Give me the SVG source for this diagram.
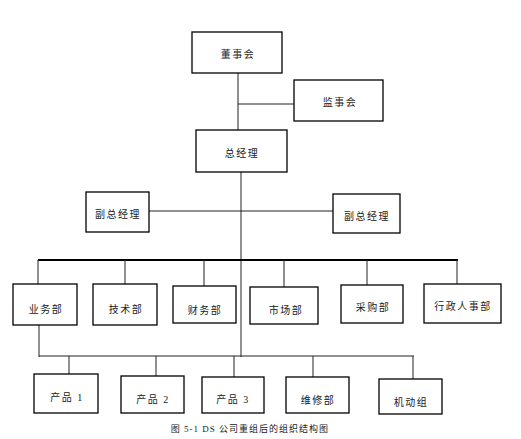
<svg xmlns="http://www.w3.org/2000/svg" width="521" height="439" viewBox="0 0 521 439">
<style>
.box{fill:#fff;stroke:#000;stroke-width:1.3}
.t{font-family:"Liberation Serif","Noto Sans CJK SC",serif;font-size:10px;letter-spacing:1.5px;fill:#222;text-anchor:middle;dominant-baseline:central}
.c{stroke:#222;stroke-width:1;fill:none}
.bus{stroke:#000;stroke-width:2;fill:none}
</style>
<rect width="521" height="439" fill="#fff"/>
<g id="connectors">
<line class="c" x1="238" y1="73" x2="238" y2="130"/>
<line class="c" x1="238" y1="104" x2="294" y2="104"/>
<line class="c" x1="241" y1="172" x2="241" y2="357"/>
<line class="c" x1="149" y1="211" x2="333" y2="211"/>
<line class="bus" x1="38" y1="260" x2="458" y2="260"/>
<line class="c" x1="38" y1="260" x2="38" y2="284"/>
<line class="c" x1="125" y1="260" x2="125" y2="284"/>
<line class="c" x1="204" y1="260" x2="204" y2="286"/>
<line class="c" x1="284" y1="260" x2="284" y2="287"/>
<line class="c" x1="367" y1="260" x2="367" y2="285"/>
<line class="c" x1="457" y1="260" x2="457" y2="284"/>
<line class="c" x1="39" y1="325" x2="39" y2="357"/>
<line class="c" x1="39" y1="356" x2="414" y2="356"/>
<line class="c" x1="69" y1="356" x2="69" y2="374"/>
<line class="c" x1="156" y1="356" x2="156" y2="376"/>
<line class="c" x1="234" y1="356" x2="234" y2="377"/>
<line class="c" x1="313" y1="356" x2="313" y2="377"/>
<line class="c" x1="413" y1="356" x2="413" y2="379"/>
</g>
<g id="n1"><rect class="box" x="192" y="32" width="90" height="41"/><text class="t" x="238" y="54">董事会</text></g>
<g id="n2"><rect class="box" x="294" y="80" width="89" height="41"/><text class="t" x="340" y="102">监事会</text></g>
<g id="n3"><rect class="box" x="196" y="130" width="91" height="42"/><text class="t" x="242" y="153">总经理</text></g>
<g id="n4"><rect class="box" x="86" y="192" width="63" height="40"/><text class="t" x="118" y="214">副总经理</text></g>
<g id="n5"><rect class="box" x="333" y="194" width="67" height="39"/><text class="t" x="367" y="216">副总经理</text></g>
<g id="n6"><rect class="box" x="13" y="284" width="64" height="41"/><text class="t" x="46" y="309">业务部</text></g>
<g id="n7"><rect class="box" x="93" y="284" width="64" height="41"/><text class="t" x="126" y="309">技术部</text></g>
<g id="n8"><rect class="box" x="173" y="286" width="63" height="37"/><text class="t" x="205" y="310">财务部</text></g>
<g id="n9"><rect class="box" x="250" y="287" width="68" height="37"/><text class="t" x="286" y="310">市场部</text></g>
<g id="n10"><rect class="box" x="341" y="285" width="62" height="38"/><text class="t" x="373" y="307">采购部</text></g>
<g id="n11"><rect class="box" x="424" y="284" width="77" height="39"/><text class="t" x="463" y="306">行政人事部</text></g>
<g id="n12"><rect class="box" x="34" y="374" width="64" height="39"/><text class="t" x="67" y="397">产品 1</text></g>
<g id="n13"><rect class="box" x="121" y="376" width="63" height="37"/><text class="t" x="153" y="399">产品 2</text></g>
<g id="n14"><rect class="box" x="202" y="377" width="62" height="36"/><text class="t" x="233" y="399">产品 3</text></g>
<g id="n15"><rect class="box" x="286" y="377" width="63" height="36"/><text class="t" x="318" y="400">维修部</text></g>
<g id="n16"><rect class="box" x="379" y="379" width="63" height="35"/><text class="t" x="411" y="402">机动组</text></g>
<text class="t" x="250" y="429" style="font-size:9px;letter-spacing:1px">图 5-1 DS 公司重组后的组织结构图</text>
</svg>
